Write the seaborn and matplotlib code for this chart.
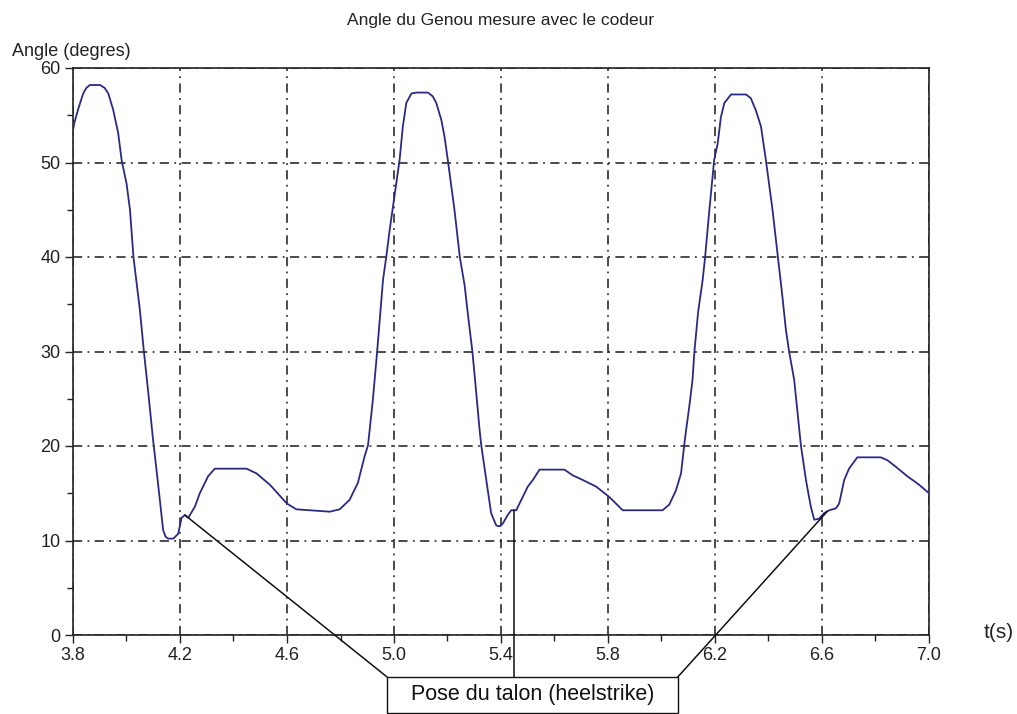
import numpy as np
import pandas as pd
import seaborn as sns
import matplotlib
matplotlib.use("Agg")
import matplotlib.pyplot as plt
from matplotlib.ticker import MultipleLocator
from matplotlib.patches import Rectangle

# Knee angle measured by the encoder over three gait cycles
time_s = [
    3.800, 3.805, 3.820, 3.838, 3.850, 3.863, 3.901, 3.918, 3.932, 3.950,
    3.969, 3.982, 4.000, 4.013, 4.026, 4.050, 4.065, 4.082, 4.098, 4.118,
    4.137, 4.146, 4.156, 4.175, 4.193, 4.206, 4.218, 4.231, 4.256, 4.274,
    4.305, 4.330, 4.449, 4.486, 4.536, 4.600, 4.635, 4.710, 4.760, 4.797,
    4.834, 4.865, 4.890, 4.903, 4.921, 4.937, 4.950, 4.959, 4.971, 4.984,
    5.000, 5.021, 5.033, 5.046, 5.065, 5.083, 5.127, 5.145, 5.158, 5.177,
    5.189, 5.201, 5.226, 5.246, 5.264, 5.276, 5.293, 5.303, 5.320, 5.326,
    5.345, 5.363, 5.382, 5.394, 5.407, 5.425, 5.438, 5.457, 5.476, 5.500,
    5.519, 5.544, 5.637, 5.668, 5.706, 5.756, 5.805, 5.855, 6.004, 6.029,
    6.054, 6.073, 6.085, 6.092, 6.104, 6.116, 6.123, 6.137, 6.154, 6.163,
    6.179, 6.197, 6.210, 6.222, 6.235, 6.260, 6.316, 6.334, 6.353, 6.372,
    6.390, 6.415, 6.435, 6.452, 6.465, 6.477, 6.496, 6.515, 6.521, 6.540,
    6.558, 6.571, 6.589, 6.608, 6.627, 6.652, 6.664, 6.683, 6.701, 6.732,
    6.820, 6.844, 6.876, 6.919, 6.963, 7.000,
]
angle_deg = [
    53.4, 54.2, 55.7, 57.3, 57.9, 58.2, 58.2, 57.9, 57.3, 55.6,
    53.1, 50.2, 47.8, 45.0, 40.0, 34.4, 30.0, 25.5, 21.0, 16.0,
    11.1, 10.4, 10.2, 10.2, 10.7, 12.4, 12.7, 12.4, 13.6, 15.0,
    16.8, 17.6, 17.6, 17.1, 15.9, 13.9, 13.3, 13.15, 13.05, 13.3,
    14.3, 16.1, 18.9, 20.1, 24.9, 30.0, 34.5, 37.6, 40.0, 42.9,
    46.1, 50.3, 53.8, 56.3, 57.3, 57.4, 57.4, 57.0, 56.3, 54.5,
    52.7, 50.3, 45.0, 40.0, 37.0, 34.0, 30.0, 27.0, 21.7, 20.1,
    16.4, 12.9, 11.6, 11.5, 11.8, 12.7, 13.2, 13.2, 14.3, 15.7,
    16.4, 17.5, 17.5, 16.9, 16.4, 15.7, 14.6, 13.2, 13.2, 13.8,
    15.3, 17.1, 20.1, 21.7, 24.2, 27.0, 30.0, 34.2, 37.6, 40.0,
    45.0, 50.3, 52.0, 54.8, 56.3, 57.2, 57.2, 56.8, 55.5, 53.8,
    50.3, 45.0, 40.0, 35.8, 32.3, 30.0, 27.0, 21.7, 20.1, 16.4,
    13.6, 12.2, 12.3, 12.9, 13.2, 13.4, 13.9, 16.4, 17.6, 18.8,
    18.8, 18.5, 17.8, 16.8, 15.9, 15.0,
]

# Heel-strike instants pointed at by the callout
heelstrike_s = [4.218, 5.45, 6.62]

x_ticks = [3.8, 4.2, 4.6, 5.0, 5.4, 5.8, 6.2, 6.6, 7.0]
x_tick_labels = ["3.8", "4.2", "4.6", "5.0", "5.4", "5.8", "6.2", "6.6", "7.0"]
y_ticks = [0, 10, 20, 30, 40, 50, 60]

title_text = "Angle du Genou mesure avec le codeur"
ylabel_text = "Angle (degres)"
xlabel_text = "t(s)"
callout_text = "Pose du talon (heelstrike)"

df = pd.DataFrame({"t": time_s, "angle": angle_deg})

sns.set_style("white")
plt.rcParams["font.family"] = ["Liberation Sans Narrow", "Liberation Sans", "DejaVu Sans"]

fig = plt.figure(figsize=(10.17, 7.14), dpi=100)
ax = fig.add_axes([73 / 1017, 1 - 635 / 714, (929 - 73) / 1017, (635 - 68) / 714])

sns.lineplot(data=df, x="t", y="angle", ax=ax, color="#2a2a86", linewidth=1.3,
             estimator=None, sort=False, zorder=3)

ax.set_xlim(3.8, 7.0)
ax.set_ylim(0, 60)
ax.set_xticks(x_ticks)
ax.set_xticklabels(x_tick_labels)
ax.set_yticks(y_ticks)
ax.xaxis.set_minor_locator(MultipleLocator(0.2))
ax.yaxis.set_minor_locator(MultipleLocator(5))
ax.set_xlabel("")
ax.set_ylabel("")

ax.tick_params(axis="both", which="major", direction="out", length=6, width=1,
               color="#222222", labelsize=13, labelcolor="#222222", pad=3)
ax.tick_params(axis="both", which="minor", direction="out", length=4, width=1,
               color="#222222")
ax.tick_params(axis="x", which="both", bottom=True)
ax.tick_params(axis="y", which="both", left=True)

for side in ["left", "right", "top", "bottom"]:
    ax.spines[side].set_visible(True)
    ax.spines[side].set_color("#222222")
    ax.spines[side].set_linewidth(1.2)

ax.grid(True, which="major", color="#1a1a1a", linewidth=1.1,
        linestyle=(0, (6, 3.5, 1.2, 3.5)))
ax.set_axisbelow(True)

# Callout box under the axis and its leader lines to the curve
box_left, box_right = 4.974, 6.061
box_top, box_bottom = -4.44, -8.25
ax.add_patch(Rectangle((box_left, box_bottom), box_right - box_left, box_top - box_bottom,
                       facecolor="white", edgecolor="#111111", linewidth=1.0,
                       clip_on=False, zorder=5))
ax.text((box_left + box_right) / 2, (box_top + box_bottom) / 2, callout_text,
        ha="center", va="center", fontsize=15.5, color="#111111",
        clip_on=False, zorder=6)

hs_values = np.interp(heelstrike_s, time_s, angle_deg)
anchors = [box_left, heelstrike_s[1], box_right]
for t_hs, v_hs, t_box in zip(heelstrike_s, hs_values, anchors):
    ax.plot([t_box, t_hs], [box_top, v_hs], color="#111111", linewidth=1.1,
            clip_on=False, zorder=4)

fig.text(501 / 1017, 1 - 20 / 714, title_text, ha="center", va="center",
         fontsize=12.5, color="#222222")
fig.text(12 / 1017, 1 - 52 / 714, ylabel_text, ha="left", va="center",
         fontsize=13, color="#222222")
fig.text(984 / 1017, 1 - 633 / 714, xlabel_text, ha="left", va="center",
         fontsize=15, color="#222222")

fig.savefig("out.png", dpi=100)
